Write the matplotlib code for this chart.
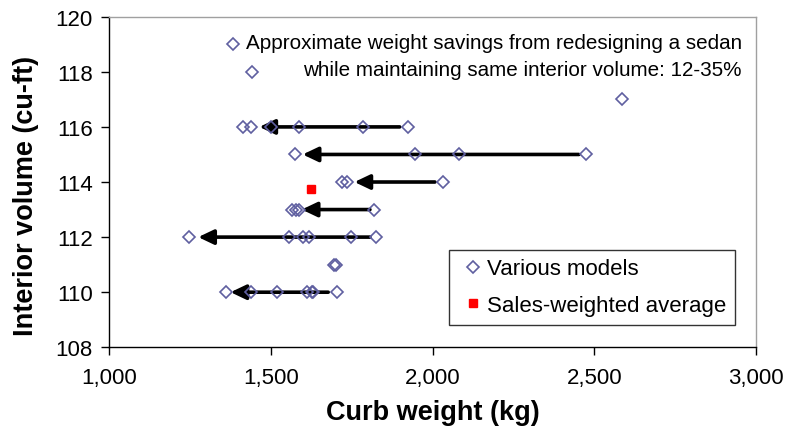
import matplotlib
matplotlib.use("Agg")
import matplotlib.pyplot as plt
from matplotlib.lines import Line2D

plt.rcParams["font.family"] = ["Liberation Sans", "DejaVu Sans"]

# ---------------------------------------------------------------------------
# Data
# ---------------------------------------------------------------------------
models_x = [1383, 1441, 2584,
            1415, 1437, 1499, 1587, 1785, 1924,
            1574, 1945, 2080, 2475,
            1720, 1735, 2033,
            1564, 1577, 1588, 1819,
            1246, 1557, 1600, 1617, 1748, 1824,
            1695, 1700,
            1360, 1437, 1518, 1612, 1626, 1631, 1705]
models_y = [119, 118, 117,
            116, 116, 116, 116, 116, 116,
            115, 115, 115, 115,
            114, 114, 114,
            113, 113, 113, 113,
            112, 112, 112, 112, 112, 112,
            111, 111,
            110, 110, 110, 110, 110, 110, 110]

avg_x = [1623]
avg_y = [113.75]

# redesign arrows: row volume, start weight, end weight
arrow_y     = [116, 115, 114, 113, 112, 110]
arrow_start = [1898, 2452, 2007, 1806, 1806, 1677]
arrow_end   = [1464, 1598, 1758, 1595, 1275, 1375]

note_lines = ["Approximate weight savings from redesigning a sedan",
              "while maintaining same interior volume: 12-35%"]

DIAMOND = "#5f5fa0"

fig = plt.figure(figsize=(7.86, 4.27), dpi=100)
ax = fig.add_axes([0.139, 0.1843, 0.823, 0.7742])

for y, x0, x1 in zip(arrow_y, arrow_start, arrow_end):
    ax.annotate("", xy=(x1, y), xytext=(x0, y),
                arrowprops=dict(arrowstyle="-|>,head_length=0.42,head_width=0.2",
                                lw=2.6, color="black", mutation_scale=22,
                                shrinkA=0, shrinkB=0), zorder=2)

ax.plot(models_x, models_y, linestyle="None", marker="D", markersize=6.2,
        markerfacecolor="none", markeredgecolor=DIAMOND, markeredgewidth=1.2,
        zorder=3)
ax.plot(avg_x, avg_y, linestyle="None", marker="s", markersize=6,
        color="#ff0000", zorder=3)

ax.text(2956, 119.07, note_lines[0], ha="right", va="center", fontsize=14.9)
ax.text(2956, 118.08, note_lines[1], ha="right", va="center", fontsize=14.9)

ax.set_xlim(1000, 3000)
ax.set_ylim(108, 120)
ax.set_xticks([1000, 1500, 2000, 2500, 3000])
ax.set_xticklabels(["1,000", "1,500", "2,000", "2,500", "3,000"])
ax.set_yticks(range(108, 121, 2))

for s in ("top", "right"):
    ax.spines[s].set_color("#a0a0a0")
for s in ("left", "bottom"):
    ax.spines[s].set_color("black")
for s in ax.spines.values():
    s.set_linewidth(1.0)

ax.tick_params(axis="both", direction="out", length=6, width=1.0,
               labelsize=16, colors="black")
ax.tick_params(axis="x", pad=8)
ax.tick_params(axis="y", pad=6)

ax.set_xlabel("Curb weight (kg)", fontsize=19.5, fontweight="bold")
ax.set_ylabel("Interior volume (cu-ft)", fontsize=19.5, fontweight="bold")
ax.xaxis.set_label_coords(0.5, -0.155)
ax.yaxis.set_label_coords(-0.108, 0.46)

handles = [
    Line2D([], [], linestyle="None", marker="D", markersize=6.2,
           markerfacecolor="none", markeredgecolor=DIAMOND, markeredgewidth=1.2),
    Line2D([], [], linestyle="None", marker="s", markersize=6, color="#ff0000"),
]
leg = ax.legend(handles, ["Various models", "Sales-weighted average"],
                loc="lower right", bbox_to_anchor=(0.9675, 0.0684),
                borderaxespad=0, fontsize=16, frameon=True, fancybox=False,
                handlelength=1.3, handletextpad=0.0, labelspacing=0.69,
                borderpad=0.4)
leg.get_frame().set_edgecolor("black")
leg.get_frame().set_linewidth(1.0)

fig.savefig("out.png", dpi=100)
